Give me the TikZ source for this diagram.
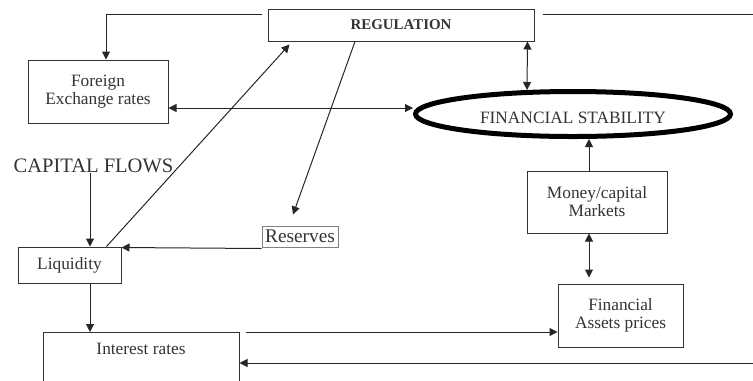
\documentclass[tikz,border=0pt]{standalone}
\usepackage{fontspec}
\setmainfont{Liberation Serif}
\usepackage{tikz}
\usetikzlibrary{calc}
\usetikzlibrary{positioning, shapes.geometric}
\usetikzlibrary{arrows.meta}

\begin{document}
\begin{tikzpicture}[
    x=0.75pt, y=-0.75pt,
    box/.style={draw=black!80, line width=0.75pt, inner sep=0pt, align=center, font=\fontsize{13}{13.5}\selectfont, text=black!80},
    goal/.style={ellipse, draw=black, line width=3.75pt, inner sep=0pt, font=\fontsize{13}{13.5}\selectfont, text=black!80},
    link/.style={line width=0.75pt, black!85, -{Triangle[length=6pt,width=6pt]}},
    both/.style={link, {Triangle[length=6pt,width=6pt]}-{Triangle[length=6pt,width=6pt]}}
]
    \clip (0,0) rectangle (753,380);

    % --- Top: regulation and its target ---
    \node[box, minimum width=199.5pt, minimum height=24pt, font=\fontsize{11.2}{13}\selectfont\bfseries] (reg) at (401,25) {REGULATION};
    \node[goal, minimum width=236.25pt, minimum height=33.75pt, text height=14.6pt, text depth=0pt] (fs) at (573,114) {FINANCIAL STABILITY};

    % --- Left column ---
    \node[box, minimum width=105pt, minimum height=47.25pt] (fx) at (98,91.5) {Foreign\\Exchange rates};
    \node[inner sep=0pt, font=\fontsize{15.4}{16}\selectfont, text=black!80] (cf) at (93.5,166) {CAPITAL FLOWS};
    \node[box, minimum width=77.25pt, minimum height=27pt] (liq) at (69.5,265) {Liquidity};
    \node[box, draw=gray, minimum width=57pt, minimum height=15.75pt, font=\fontsize{14.5}{15}\selectfont] (res) at (300,236.5) {Reserves};
    \node[box, minimum width=147pt, minimum height=60pt, anchor=north] (ir) at (141,332) {};
    \node[font=\fontsize{13}{13.5}\selectfont, text=black!80] (irtxt) at (141,349) {Interest rates};

    % --- Right column ---
    \node[box, minimum width=105pt, minimum height=46.5pt] (mkt) at (597,202) {Money/capital\\Markets};
    \node[box, minimum width=93.75pt, minimum height=47.25pt] (fap) at (620.5,315.5) {Financial\\Assets prices};

    % --- Regulation outwards ---
    \draw[link] ($(reg.west)+(-6,-11)$) -| ($(fx.north)+(8,0)$);
    \draw[link] ($(reg.east)+(8,-11)$) -- (775,14) -- (775,363) -- ($(ir.north east)+(0,31)$);
    \draw[both] ($(reg.south east)+(-7,0)$) -- ($(fs.north)+(-46,1)$);
    \draw[link] ($(reg.south)+(-46,0)$) -- ($(res.north)+(-7,-11)$);

    % --- Into financial stability ---
    \draw[both] ($(fx.east)+(0,16.5)$) -- ($(fs.west)+(0,-6)$);
    \draw[link] ($(mkt.north)+(-8,0)$) -- ($(fs.south)+(16,0)$);
    \draw[both] ($(mkt.south)+(-8,0)$) -- ($(fap.north)+(-31.5,-6)$);

    % --- Liquidity chain ---
    \draw[link] ($(cf.south)+(-3.5,0)$) -- ($(liq.north)+(20.5,0)$);
    \draw[link] ($(res.south west)+(0,1)$) -- ($(liq.north east)+(0,1)$);
    \draw[link] ($(liq.north east)+(-15,0)$) -- ($(reg.south west)+(22,3)$);
    \draw[link] ($(liq.south)+(20.5,0)$) -- ($(ir.north)+(-51,0)$);
    \draw[link] ($(ir.north east)+(6,0)$) -- ($(fap.west)+(0,16.5)$);

\end{tikzpicture}
\end{document}
